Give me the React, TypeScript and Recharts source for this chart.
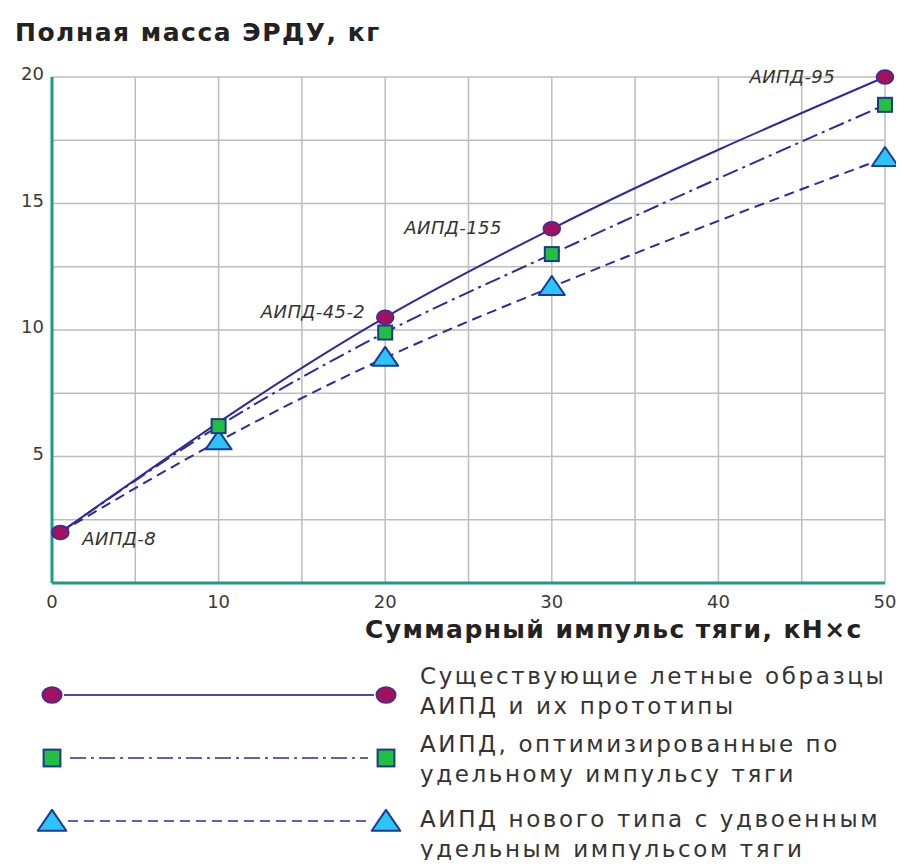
import React from "react";
import { LineChart, Line, XAxis, YAxis, CartesianGrid, LabelList } from "recharts";

// Existing flight models (circles)
const impulseExisting = [0.5, 20, 30, 50];
const massExisting = [2.0, 10.5, 14.0, 20.0];
const existingNames = ["АИПД-8", "АИПД-45-2", "АИПД-155", "АИПД-95"];

// Optimized by specific impulse (squares)
const impulseOptimized = [0.5, 10, 20, 30, 50];
const massOptimized = [2.0, 6.2, 9.9, 13.0, 18.9];

// New type with doubled specific impulse (triangles)
const impulseNew = [0.5, 10, 20, 30, 50];
const massNew = [2.0, 5.6, 8.9, 11.7, 16.8];

const xTicks = [0, 5, 10, 15, 20, 25, 30, 35, 40, 45, 50];
const yTicks = [0, 2.5, 5, 7.5, 10, 12.5, 15, 17.5, 20];

const legendTexts = [
  ["Существующие летные образцы", "АИПД и их прототипы"],
  ["АИПД, оптимизированные по", "удельному импульсу тяги"],
  ["АИПД нового типа с удвоенным", "удельным импульсом тяги"],
];

const existing = impulseExisting.map((x, i) => ({ x, y: massExisting[i], name: existingNames[i] }));
const optimized = impulseOptimized.map((x, i) => ({ x, y: massOptimized[i] }));
const newType = impulseNew.map((x, i) => ({ x, y: massNew[i] }));

const LINE = "#2b2b9c";
const AXIS = "#1f9a85";
const FONT = "'DejaVu Sans', sans-serif";

// where each point name sits relative to its marker
const labelPlacement = [
  { dx: 22, dy: 13, anchor: "start" },
  { dx: -20, dy: 1, anchor: "end" },
  { dx: -50, dy: 5, anchor: "end" },
  { dx: -50, dy: 6, anchor: "end" },
];

const Circle = ({ cx, cy, s = 1 }: any) => (
  <ellipse cx={cx} cy={cy} rx={8.5 * s} ry={7 * s} fill="#a0125e" stroke="#3a2aa0" strokeWidth={1.5} />
);
const Square = ({ cx, cy, s = 1 }: any) => (
  <rect x={cx - 7 * s} y={cy - 7 * s} width={14 * s} height={14 * s} fill="#22c040" stroke="#1a3a8a" strokeWidth={2} />
);
const Triangle = ({ cx, cy, s = 1 }: any) => (
  <polygon
    points={`${cx},${cy - 11 * s} ${cx + 13 * s},${cy + 8 * s} ${cx - 13 * s},${cy + 8 * s}`}
    fill="#2cc4f4"
    stroke="#1a3a9a"
    strokeWidth={2}
    strokeLinejoin="round"
  />
);

// the shared start point only carries the circle marker
const dotFor = (Shape: any, skipFirst: boolean) => (p: any) => {
  if (skipFirst && p.index === 0) return <g key={`d${p.index}`} />;
  return <Shape key={`d${p.index}`} cx={p.cx} cy={p.cy} />;
};

const NameLabel = (p: any) => {
  const { x, y, value, index } = p;
  const pl = labelPlacement[index];
  return (
    <text
      x={x + pl.dx}
      y={y + pl.dy}
      textAnchor={pl.anchor}
      fontSize={18}
      fontStyle="italic"
      fontFamily={FONT}
      fill="#333"
      letterSpacing={0.4}
    >
      {value}
    </text>
  );
};

export default function App() {
  return (
    <div style={{ position: "relative", width: 904, height: 868, margin: -8, background: "#fff", fontFamily: FONT }}>
      <div style={{ position: "absolute", left: 15, top: 18, fontSize: 25, fontWeight: 700, color: "#222", letterSpacing: 1.5 }}>
        Полная масса ЭРДУ, кг
      </div>
      <div style={{ position: "absolute", left: 0, top: 0 }}>
        <LineChart width={904} height={640} margin={{ top: 77, right: 19, bottom: 27, left: 12 }}>
          <CartesianGrid stroke="#bdbdbd" strokeWidth={1.5} />
          <XAxis
            type="number"
            dataKey="x"
            domain={[0, 50]}
            ticks={xTicks}
            tickFormatter={(v: number) => (v % 10 === 0 ? String(v) : "")}
            axisLine={{ stroke: AXIS, strokeWidth: 3 }}
            tickLine={false}
            height={30}
            tick={{ fontSize: 18, fill: "#3a3a3a", fontFamily: FONT, dy: 4 }}
            allowDuplicatedCategory={false}
          />
          <YAxis
            type="number"
            dataKey="y"
            domain={[0, 20]}
            ticks={yTicks}
            tickFormatter={(v: number) => (v % 5 === 0 && v !== 0 ? String(v) : "")}
            axisLine={{ stroke: AXIS, strokeWidth: 3 }}
            tickLine={false}
            width={40}
            tick={{ fontSize: 18, fill: "#3a3a3a", fontFamily: FONT, dy: -3 }}
          />
          <Line
            data={newType}
            dataKey="y"
            type="monotone"
            stroke={LINE}
            strokeWidth={2}
            strokeDasharray="10 6"
            dot={dotFor(Triangle, true)}
            isAnimationActive={false}
          />
          <Line
            data={optimized}
            dataKey="y"
            type="monotone"
            stroke={LINE}
            strokeWidth={2}
            strokeDasharray="16 5 3 5"
            dot={dotFor(Square, true)}
            isAnimationActive={false}
          />
          <Line
            data={existing}
            dataKey="y"
            type="monotone"
            stroke={LINE}
            strokeWidth={2}
            dot={dotFor(Circle, false)}
            isAnimationActive={false}
          >
            <LabelList dataKey="name" content={NameLabel} />
          </Line>
        </LineChart>
      </div>
      <div style={{ position: "absolute", left: 365, top: 615, fontSize: 25, fontWeight: 700, color: "#222", letterSpacing: 1.4 }}>
        Суммарный импульс тяги, кН×с
      </div>
      <svg style={{ position: "absolute", left: 0, top: 0 }} width={904} height={868}>
        <line x1={64} y1={695} x2={374} y2={695} stroke="#4a4aa8" strokeWidth={2} />
        <Circle cx={52} cy={695} s={1.15} />
        <Circle cx={386} cy={695} s={1.15} />
        <line x1={70} y1={758} x2={368} y2={758} stroke="#6060b0" strokeWidth={2} strokeDasharray="16 5 3 5" />
        <Square cx={52} cy={758} s={1.2} />
        <Square cx={386} cy={758} s={1.2} />
        <line x1={68} y1={821} x2={370} y2={821} stroke="#6060b0" strokeWidth={2} strokeDasharray="10 6" />
        <Triangle cx={52} cy={822} s={1.1} />
        <Triangle cx={386} cy={822} s={1.1} />
      </svg>
      {legendTexts.map((lines, i) => (
        <div
          key={i}
          style={{
            position: "absolute",
            left: 420,
            top: [661, 729, 804][i],
            fontSize: 23,
            lineHeight: "30px",
            color: "#333",
            letterSpacing: 2.6,
          }}
        >
          {lines.map((t, j) => (
            <div key={j}>{t}</div>
          ))}
        </div>
      ))}
    </div>
  );
}
